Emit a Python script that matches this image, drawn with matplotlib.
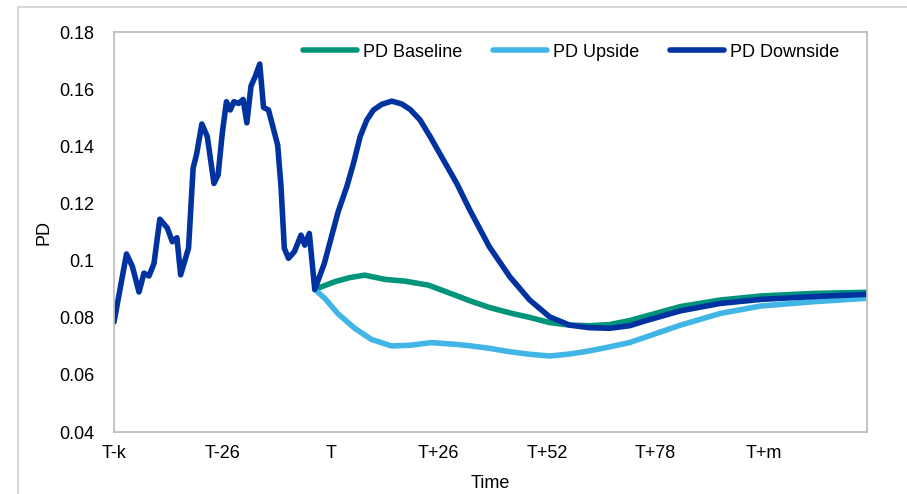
import matplotlib
matplotlib.use("Agg")
import matplotlib.pyplot as plt
from matplotlib.patches import Rectangle

plt.rcParams["font.family"] = ["Liberation Sans", "DejaVu Sans"]

# history (downside path before projection start)
hist_t = [0, 3, 4.4, 6, 7.2, 8.4, 9.6, 11, 12.8, 14, 15.1, 16, 17.9, 19, 19.8,
          21.1, 22.4, 24, 25, 26, 27, 27.9, 28.8, 29.9, 31, 31.9, 32.9, 33.9,
          35, 35.9, 37.1, 39.3, 40.1, 40.9, 41.9, 43.3, 44.9, 45.8, 46.9, 48.2]
hist_pd = [0.0785, 0.1023, 0.098, 0.089, 0.0956, 0.0946, 0.099, 0.1145, 0.1114,
           0.1066, 0.108, 0.095, 0.1044, 0.1324, 0.137, 0.1478, 0.1434, 0.127,
           0.130, 0.1446, 0.1556, 0.1527, 0.1556, 0.155, 0.1564, 0.1482, 0.1611,
           0.1644, 0.1688, 0.1536, 0.1527, 0.1404, 0.1259, 0.1043, 0.1008,
           0.1031, 0.1089, 0.1054, 0.1095, 0.0899]

# projections
down_t = [48.2, 50.5, 53.8, 55.9, 57.5, 59.1, 60.7, 62.3, 64.3, 66.7, 69.1,
          71.1, 73.5, 75.9, 79.1, 82.3, 85.5, 90.1, 95.0, 99.8, 104.6, 109.4,
          114.2, 119.0, 123.8, 127.8, 136.0, 145.6, 155.3, 168.0, 180.8]
down_pd = [0.0899, 0.099, 0.1170, 0.1259, 0.134, 0.1434, 0.1492, 0.1527,
           0.1547, 0.1558, 0.1548, 0.1529, 0.1492, 0.1434, 0.1352, 0.1270,
           0.1175, 0.1049, 0.0944, 0.0862, 0.0803, 0.0774, 0.0765, 0.0763,
           0.0772, 0.0790, 0.0824, 0.0850, 0.0864, 0.0874, 0.0882]

base_t = [48.2, 53.0, 56.5, 60.2, 65.1, 69.9, 75.5, 81.9, 85.3, 90.1, 95.0,
          99.8, 104.6, 109.4, 114.2, 119.0, 123.8, 127.8, 136.0, 145.6, 155.3,
          168.0, 180.8]
base_pd = [0.0899, 0.0926, 0.0940, 0.0949, 0.0934, 0.0928, 0.0914, 0.0879,
           0.0860, 0.0836, 0.0817, 0.0801, 0.0783, 0.0774, 0.0772, 0.0776,
           0.0790, 0.0806, 0.0839, 0.0862, 0.0876, 0.0885, 0.0889]

up_t = [48.2, 50.6, 53.7, 57.8, 61.8, 66.7, 71.5, 76.1, 81.9, 85.3, 90.1,
        95.0, 99.8, 104.6, 109.4, 114.2, 119.0, 123.8, 127.8, 136.0, 145.6,
        155.3, 168.0, 180.8]
up_pd = [0.0899, 0.0868, 0.0815, 0.0763, 0.0724, 0.0701, 0.0704, 0.0713,
         0.0707, 0.0702, 0.0693, 0.0681, 0.0672, 0.0666, 0.0673, 0.0684,
         0.0698, 0.0713, 0.0733, 0.0774, 0.0815, 0.0841, 0.0856, 0.0868]

x_ticks = [0, 26, 52, 78, 104, 130, 156]
x_labels = ["T-k", "T-26", "T", "T+26", "T+52", "T+78", "T+m"]
y_ticks = [0.04, 0.06, 0.08, 0.1, 0.12, 0.14, 0.16, 0.18]
y_labels = ["0.04", "0.06", "0.08", "0.1", "0.12", "0.14", "0.16", "0.18"]

GREEN = "#00957A"
LIGHT = "#41B6E6"
DARK = "#0032A0"

W, H = 907, 494
fig = plt.figure(figsize=(W / 100, H / 100), dpi=100)
# chart area outline
fig.patches.append(Rectangle((18 / W, -0.1), 1.2, 1 - 7 / H + 0.1,
                             transform=fig.transFigure, fill=False,
                             edgecolor="#D0D0D0", linewidth=1.2))
ax = fig.add_axes([114 / W, 1 - 432 / H, (867 - 114) / W, (432 - 32) / H])

lw = 4.0
style = dict(lw=lw, solid_capstyle="round", solid_joinstyle="round")
ax.plot(base_t, base_pd, color=GREEN, label="PD Baseline", **style)
ax.plot(up_t, up_pd, color=LIGHT, label="PD Upside", **style)
ax.plot(hist_t + down_t[1:], hist_pd + down_pd[1:], color=DARK,
        label="PD Downside", **style)

ax.set_xlim(0, 180.8)
ax.set_ylim(0.04, 0.18)
ax.set_xticks(x_ticks)
ax.set_xticklabels(x_labels)
ax.set_yticks(y_ticks)
ax.set_yticklabels(y_labels)
ax.tick_params(length=0, labelsize=13)
ax.tick_params(axis="y", pad=14)
ax.tick_params(axis="x", pad=9)
for s in ax.spines.values():
    s.set_color("#BFBFBF")
    s.set_linewidth(1.3)

ax.set_xlabel("Time", fontsize=13, labelpad=10)
ax.set_ylabel("PD", fontsize=13, labelpad=5)

leg = ax.legend(loc="upper center", bbox_to_anchor=(0.607, 1.0), ncol=3,
                frameon=False, fontsize=13, handlelength=3.0,
                handletextpad=0.32, columnspacing=1.7, borderaxespad=0.25)

fig.savefig("out.png", dpi=100)
